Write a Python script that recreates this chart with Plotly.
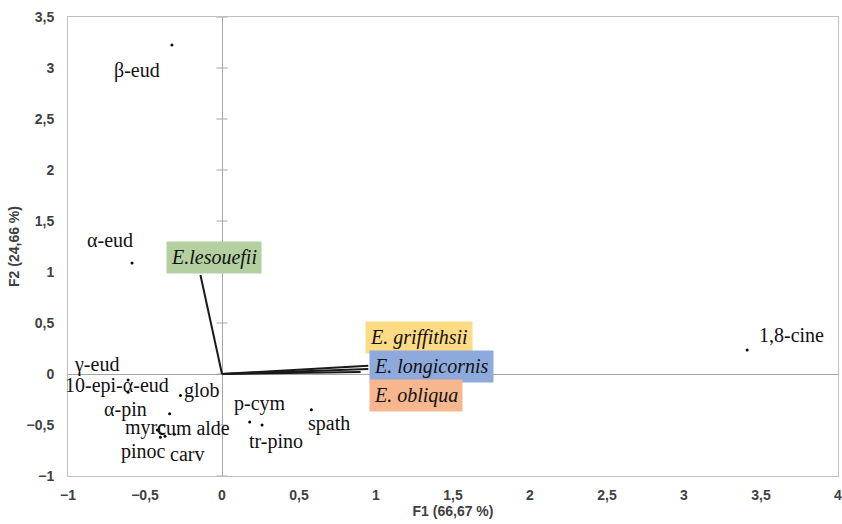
import plotly.graph_objects as go

# --- data ---
compounds = ["β-eud", "α-eud", "γ-eud", "10-epi-α-eud", "glob", "α-pin", "myrc",
             "cum alde", "pinoc", "carv", "p-cym", "tr-pino", "spath", "1,8-cine"]
comp_f1 = [-0.325, -0.584, -0.61, -0.61, -0.27, -0.34, -0.42,
           -0.31, -0.40, -0.37, 0.18, 0.26, 0.58, 3.41]
comp_f2 = [3.225, 1.088, -0.06, -0.18, -0.21, -0.39, -0.55,
           -0.59, -0.62, -0.61, -0.47, -0.50, -0.35, 0.235]

species = ["E.lesouefii", "E. griffithsii", "E. longicornis", "E. obliqua"]
species_f1 = [-0.14, 0.95, 0.95, 0.90]
species_f2 = [0.97, 0.08, 0.05, 0.02]

x_ticks = [-1, -0.5, 0, 0.5, 1, 1.5, 2, 2.5, 3, 3.5, 4]
y_ticks = [-1, -0.5, 0, 0.5, 1, 1.5, 2, 2.5, 3, 3.5]

# --- label placement (pixel shifts / label anchors) ---
comp_label_shift = [(-35, -25), (-22, 23), (-32, 16), (-11, 7), (22, 5), (-44, 4), (-12, 3),
                    (19, 6), (-17, -14), (22, -18), (10, 18), (14, -16), (18, -14), (44, 15)]
species_label_pos = [(-0.05, 1.14), (1.28, 0.36), (1.36, 0.07), (1.26, -0.21)]
species_bg = ["#B5D0A0", "#FFDB85", "#8EA9DB", "#F6B78F"]

serif = "Liberation Serif"
sans = "Liberation Sans Narrow, Liberation Sans, Arial"

fig = go.Figure()

# tick marks crossing the vertical zero axis
fig.add_trace(go.Scatter(
    x=[0] * len(y_ticks), y=y_ticks, mode="markers",
    marker=dict(symbol="line-ew", size=8, line=dict(color="#A6A6A6", width=1)),
    hoverinfo="skip", showlegend=False))

# species vectors
for sx, sy in zip(species_f1, species_f2):
    fig.add_trace(go.Scatter(x=[0, sx], y=[0, sy], mode="lines",
                             line=dict(color="#1a1a1a", width=2),
                             hoverinfo="skip", showlegend=False))

# compound points
fig.add_trace(go.Scatter(x=comp_f1, y=comp_f2, mode="markers",
                         marker=dict(color="black", size=3),
                         showlegend=False))

annotations = []
for name, cx, cy, (dx, dy) in zip(compounds, comp_f1, comp_f2, comp_label_shift):
    annotations.append(dict(x=cx, y=cy, text=name, showarrow=False,
                            xshift=dx, yshift=dy,
                            font=dict(family=serif, size=20, color="#111111")))

for name, (lx, ly), bg in zip(species, species_label_pos, species_bg):
    annotations.append(dict(x=lx, y=ly, text="<i>" + name + "</i>", showarrow=False,
                            bgcolor=bg, borderpad=4,
                            font=dict(family=serif, size=20, color="#111111")))

axis_common = dict(
    showgrid=False, zeroline=True, zerolinecolor="#A6A6A6", zerolinewidth=1,
    showline=True, linecolor="#BFBFBF", linewidth=1, mirror=True,
    ticks="", automargin=False, ticklabeloverflow="allow",
    tickfont=dict(family=sans, size=14, color="#404040", weight="bold"),
)

fig.update_layout(
    width=842, height=524,
    margin=dict(l=68, r=4, t=17, b=48),
    paper_bgcolor="white", plot_bgcolor="white",
    separators=", ",
    annotations=annotations,
    xaxis=dict(range=[-1, 4], tickvals=x_ticks, ticklabelstandoff=6, **axis_common,
               title=dict(text="F1 (66,67 %)", standoff=2,
                          font=dict(family="Liberation Sans, Arial", size=14,
                                    color="#404040", weight="bold"))),
    yaxis=dict(range=[-1, 3.5], tickvals=y_ticks, ticklabelstandoff=10, **axis_common,
               title=dict(text="F2 (24,66 %)", standoff=3,
                          font=dict(family="Liberation Sans, Arial", size=14,
                                    color="#404040", weight="bold"))),
)

# remove the default page margin so the 842x524 figure fills the window exactly
fig.write_html("out.html", config={"displayModeBar": False},
               post_script="document.body.style.margin='0';document.body.style.overflow='hidden';")
